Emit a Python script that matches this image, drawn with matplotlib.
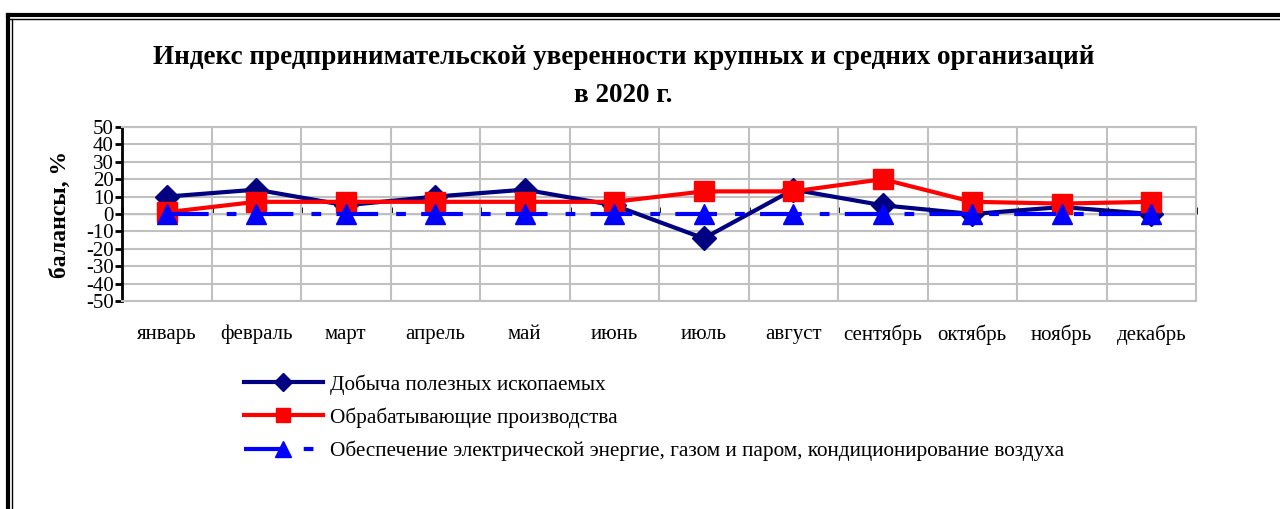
import numpy as np
import matplotlib.pyplot as plt
from matplotlib.lines import Line2D
from matplotlib.ticker import FixedLocator

plt.rcParams['font.family'] = ['Liberation Serif', 'DejaVu Serif']
plt.rcParams['lines.scale_dashes'] = False

# данные
months = ['январь', 'февраль', 'март', 'апрель', 'май', 'июнь',
          'июль', 'август', 'сентябрь', 'октябрь', 'ноябрь', 'декабрь']
mining = [10, 14, 5, 10, 14, 5, -14, 14, 5, 0, 4, 0]
manufacturing = [1, 7, 7, 7, 7, 7, 13, 13, 20, 7, 6, 7]
energy = [0, 0, 0, 0, 0, 0, 0, 0, 0, 0, 0, 0]
labels = ['Добыча полезных ископаемых',
          'Обрабатывающие производства',
          'Обеспечение электрической энергие, газом и паром, кондиционирование воздуха']
yticks = np.arange(-50, 51, 10)

x = np.arange(len(months))
grid_c = '#c0c0c0'

fig = plt.figure(figsize=(12.8, 5.09), dpi=100)
ax = fig.add_axes([122 / 1280, 1 - 301 / 509, (1196 - 122) / 1280, (301 - 127) / 509])

l1, = ax.plot(x, mining, color='#000080', lw=3, marker='D', ms=12, zorder=4)
l2, = ax.plot(x, manufacturing, color='#ff0000', lw=3, marker='s', ms=14, zorder=5)
l3, = ax.plot(x, energy, color='#0000ff', lw=3, marker='^', ms=15, zorder=6)
l3.set_dashes((30, 13, 7, 11))

ax.set_xlim(-0.5, len(months) - 0.5)
ax.set_ylim(-50, 50)
ax.set_yticks(yticks)
ax.set_yticklabels([str(v) for v in yticks], fontsize=15)
ax.set_xticks(x)
ax.set_xticklabels(months, fontsize=15)
ax.tick_params(axis='x', length=0, pad=17)
ax.tick_params(axis='y', direction='out', length=5, width=2, pad=1)
ax.xaxis.set_minor_locator(FixedLocator(x[:-1] + 0.5))
ax.tick_params(axis='x', which='minor', length=0)

ax.grid(axis='y', color=grid_c, lw=1.5, zorder=0)
ax.grid(axis='x', which='minor', color=grid_c, lw=1.5, zorder=0)
ax.set_axisbelow(True)
for s in ['top', 'right', 'bottom']:
    ax.spines[s].set_color(grid_c)
    ax.spines[s].set_linewidth(1.5)
ax.spines['left'].set_linewidth(2)

# нулевая ось с делениями
sec = ax.secondary_xaxis(0.5)
sec.set_xticks(np.arange(len(months) + 1) - 0.5)
sec.set_xticklabels([])
sec.tick_params(direction='out', length=5, width=2, color='black')
sec.spines['bottom'].set_linewidth(2)
sec.spines['bottom'].set_color('black')

ax.set_ylabel('балансы, %', fontsize=17, fontweight='bold', labelpad=11)

fig.text(0.487, 1 - 76.5 / 509,
         'Индекс предпринимательской уверенности крупных и средних организаций\nв 2020 г.',
         ha='center', va='center', fontsize=19.5, fontweight='bold', linespacing=1.65)

fig.legend([l1, l2, l3], labels, loc='upper left', bbox_to_anchor=(225 / 1280, 1 - 355 / 509),
           frameon=False, fontsize=15.3, handlelength=3.7, handletextpad=0.34,
           labelspacing=0.6, markerscale=0.75)

# рамка
fig.add_artist(Line2D([8 / 1280, 1], [1 - 15 / 509, 1 - 15 / 509], color='black', lw=3))
fig.add_artist(Line2D([8 / 1280, 1], [1 - 19 / 509, 1 - 19 / 509], color='black', lw=1))
fig.add_artist(Line2D([8 / 1280, 8 / 1280], [0, 1 - 15 / 509], color='black', lw=3))
fig.add_artist(Line2D([12 / 1280, 12 / 1280], [0, 1 - 19 / 509], color='black', lw=1))

fig.savefig('out.png', dpi=100)
